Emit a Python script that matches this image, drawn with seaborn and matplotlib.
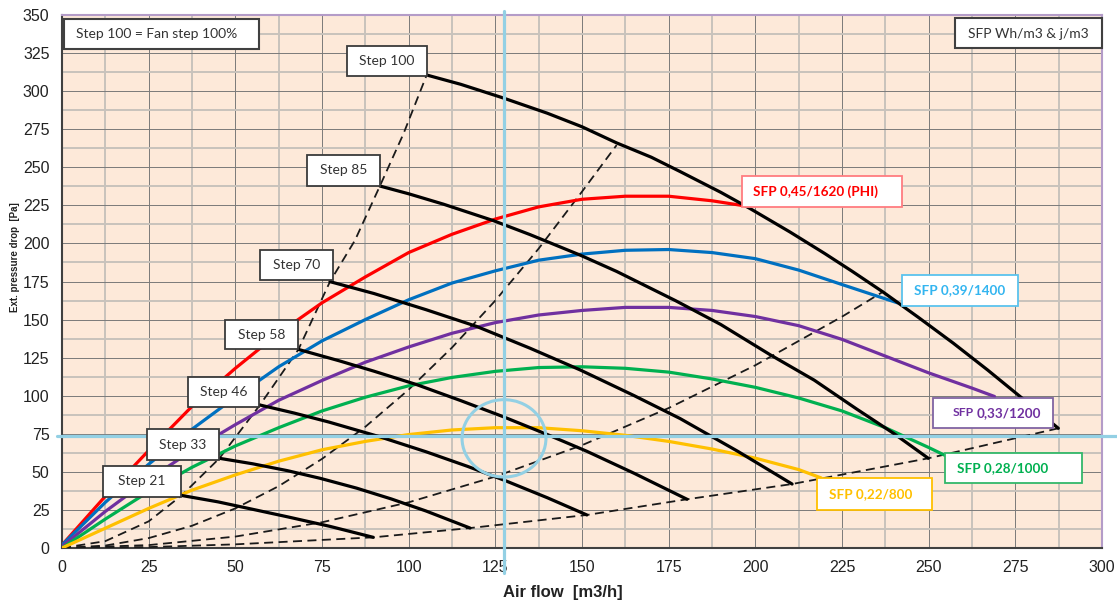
import matplotlib
matplotlib.use("Agg")
import matplotlib.pyplot as plt
import seaborn as sns
import pandas as pd
from matplotlib.patches import Rectangle, Ellipse
from matplotlib.ticker import MultipleLocator

# ---------------- data ----------------
# constant-SFP curves (air flow m3/h, pressure Pa)
sfp_labels = ["SFP 0,45/1620 (PHI)", "SFP 0,39/1400", "SFP 0,33/1200", "SFP 0,28/1000", "SFP 0,22/800"]
sfp_colors = ["#FF0000", "#0070C0", "#7030A0", "#00B050", "#FFC000"]

red_x = [0, 12.5, 25, 37.5, 50, 62.5, 75, 87.5, 100, 112.5, 125, 137.5, 150, 162.5, 175, 187.5, 196]
red_y = [2, 34, 64, 93, 118, 141, 161, 178, 194, 206, 216, 224, 229, 231, 231, 228, 225]

blue_x = [0, 12.5, 25, 37.5, 50, 62.5, 75, 87.5, 100, 112.5, 125, 137.5, 150, 162.5, 175, 187.5, 200, 212.5, 225, 241]
blue_y = [2, 30, 55, 78, 99, 119, 136, 150, 163, 174, 182, 189, 193, 195.5, 196, 194, 190, 182.5, 173, 161]

purple_x = [0, 12.5, 25, 37.5, 50, 62.5, 75, 87.5, 100, 112.5, 125, 137.5, 150, 162.5, 175, 187.5, 200, 212.5, 225, 237.5, 250, 262.5, 269]
purple_y = [1, 24, 45, 64, 81, 97, 110, 122, 132, 141, 148, 153, 156, 158, 158, 156, 152, 146, 137, 126, 115, 105, 99.5]

green_x = [0, 12.5, 25, 37.5, 50, 62.5, 75, 87.5, 100, 112.5, 125, 137.5, 150, 162.5, 175, 187.5, 200, 212.5, 225, 237.5, 250, 255]
green_y = [0, 19, 37, 53, 67, 79, 90, 99, 106.5, 112, 116, 118.5, 119, 118, 115.5, 111, 105.5, 98.5, 90, 79, 66, 60.5]

yellow_x = [0, 12.5, 25, 37.5, 50, 62.5, 75, 87.5, 100, 112.5, 125, 137.5, 150, 162.5, 175, 187.5, 200, 212.5, 219]
yellow_y = [0, 13, 26, 38, 48, 57, 64.5, 70, 74.5, 77.5, 79, 79, 77, 74, 70, 65, 59, 51.5, 46]

# fan step curves
step_labels = ["Step 100", "Step 85", "Step 70", "Step 58", "Step 46", "Step 33", "Step 21"]
step100_x = [105.2, 115, 127.3, 140, 150, 160, 170, 178.3, 190, 198.4, 210, 220, 228, 236.9, 247, 257.1, 267, 276.3, 287.4]
step100_y = [310.6, 304.5, 295.5, 285.5, 276.6, 266, 256.6, 247.2, 233.6, 223, 207.5, 193.4, 181.6, 168, 151.5, 134.5, 116.9, 99.6, 78.6]
step85_x = [91.7, 100, 110, 124.4, 135, 149.4, 160, 177, 190, 204.2, 217, 229.2, 240, 249.9]
step85_y = [237.7, 232.6, 225.8, 215, 205.8, 192.4, 181.6, 162.4, 146.8, 127, 110.2, 91.3, 75.1, 58.9]
step70_x = [77.3, 90, 105, 119.6, 135, 149.4, 165, 178.3, 195, 210.6]
step70_y = [174.9, 167.1, 156.5, 145.5, 131.2, 117, 100.1, 85, 63.4, 42]
step58_x = [68.2, 80, 90, 102.3, 115, 127.3, 140, 151.3, 165, 180.3]
step58_y = [130.4, 122.9, 116.1, 107.3, 96.8, 86.2, 74.5, 63.6, 49.1, 32]
step46_x = [57.1, 67, 77, 91.7, 105, 117, 127.8, 140, 151.4]
step46_y = [93.9, 88.6, 82.7, 73, 63.2, 53.6, 44.3, 33, 21.7]
step33_x = [45.4, 55, 65, 74.4, 85, 95, 105, 117.7]
step33_y = [58.9, 55.3, 50.8, 45.8, 39.3, 32.2, 24.3, 13.1]
step21_x = [34.5, 45, 54.2, 65, 77.3, 89.8]
step21_y = [34.5, 30.3, 25.8, 20.5, 14.2, 7]

# system curves (dashed)
sys1_x = [0, 12.5, 25, 34.5, 45.4, 57.1, 68.2, 77.3, 84.5, 91.7, 98.5, 105.2]
sys1_y = [0, 4.5, 17.5, 34.5, 58.9, 93.9, 130.4, 174.9, 202, 237.7, 272, 310.6]
sys2_x = [0, 12.5, 25, 37.5, 50, 62.5, 75, 87.5, 100, 112.5, 125, 137.5, 150, 160]
sys2_y = [0, 1.6, 6.5, 14.6, 26, 40.6, 58.5, 79.6, 104, 131.6, 162.5, 196.6, 234, 264.6]
sys3_x = [0, 25, 50, 75, 100, 125, 150, 175, 200, 225, 237]
sys3_y = [0, 1.9, 7.5, 16.9, 30, 46.9, 67.5, 91.9, 120, 151.9, 168.5]
sys4_x = [0, 25, 50, 75, 89.8, 117.7, 151.4, 180.3, 210.6, 249.9, 287.4]
sys4_y = [0, 0.6, 2.4, 5.3, 7, 13.1, 21.7, 32, 42, 58.9, 78.6]

# operating point marker
op_x, op_y = 127.5, 73.3

x_ticks = list(range(0, 301, 25))
y_ticks = list(range(0, 351, 25))

# ---------------- figure ----------------
sns.set_style("white")
plt.rcParams["font.family"] = ["Liberation Sans", "DejaVu Sans"]

W, H = 1117, 602
fig = plt.figure(figsize=(W / 100, H / 100), dpi=100)
ax = fig.add_axes([62 / W, 1 - 548 / H, (1102 - 62) / W, (548 - 15) / H])
ax.set_facecolor("#FDE9D9")
ax.set_xlim(0, 300)
ax.set_ylim(0, 350)
ax.set_xticks(x_ticks)
ax.set_yticks(y_ticks)
ax.xaxis.set_minor_locator(MultipleLocator(12.5))
ax.yaxis.set_minor_locator(MultipleLocator(12.5))
ax.grid(which="major", color="#7A7A7A", linewidth=0.7)
ax.grid(which="minor", color="#C8C2BC", linewidth=1.4)
ax.set_axisbelow(True)
ax.tick_params(which="minor", length=0)
ax.tick_params(which="major", length=5, width=1, color="#404040",
               labelsize=11.5, labelcolor="#222222", direction="out", pad=4)
for s in ["left", "bottom"]:
    ax.spines[s].set_color("#404040")
    ax.spines[s].set_linewidth(1.5)
for s in ["top", "right"]:
    ax.spines[s].set_color("#B49CC8")
    ax.spines[s].set_linewidth(1.5)


def draw(xs, ys, color, lw, ls="-", z=3):
    df = pd.DataFrame({"x": xs, "y": ys})
    sns.lineplot(data=df, x="x", y="y", ax=ax, color=color, linewidth=lw,
                 linestyle=ls, sort=False, estimator=None, zorder=z, legend=False)


dash = (0, (5.0, 3.0))
for xs, ys in [(sys1_x, sys1_y), (sys2_x, sys2_y), (sys3_x, sys3_y), (sys4_x, sys4_y)]:
    draw(xs, ys, "#1A1A1A", 1.3, dash, z=2.6)

for (xs, ys), c in zip([(red_x, red_y), (blue_x, blue_y), (purple_x, purple_y),
                        (green_x, green_y), (yellow_x, yellow_y)], sfp_colors):
    draw(xs, ys, c, 2.3, z=3)

for xs, ys in [(step100_x, step100_y), (step85_x, step85_y), (step70_x, step70_y),
               (step58_x, step58_y), (step46_x, step46_y), (step33_x, step33_y),
               (step21_x, step21_y)]:
    draw(xs, ys, "#000000", 2.3, z=3.5)

ax.set_xlabel("")
ax.set_ylabel("")

# operating point crosshair and circle
cross = "#93D0E4"
ax.plot([op_x, op_x], [352.6, -16.4], color=cross, lw=2.3, clip_on=False, zorder=6)
ax.plot([-1.4, 304.3], [op_y, op_y], color=cross, lw=2.3, clip_on=False, zorder=6)
ax.add_patch(Ellipse((op_x, 72), 24.2, 50.8, fill=False, edgecolor=cross, lw=2.2, zorder=6))

# ---------------- label boxes (pixel layout) ----------------
def fig_box(px0, py0, px1, py1, ec, lw=1.2):
    r = Rectangle((px0 / W, 1 - py1 / H), (px1 - px0) / W, (py1 - py0) / H,
                  transform=fig.transFigure, facecolor="white", edgecolor=ec,
                  linewidth=lw, zorder=5)
    fig.add_artist(r)

lab_font = ["Lato", "DejaVu Sans"]

# info boxes
fig_box(64.3, 19, 259.3, 49.3, "#404040", 1.5)
fig.text(76 / W, 1 - 34 / H, "Step 100 = Fan step 100%", family=lab_font, fontsize=10,
         color="#333333", ha="left", va="center", zorder=6)
fig_box(955, 18.3, 1101.7, 48.3, "#404040", 1.5)
fig.text(1028 / W, 1 - 33.5 / H, "SFP Wh/m3 & j/m3", family=lab_font, fontsize=10,
         color="#333333", ha="center", va="center", zorder=6)

step_boxes = [(346.7, 45.7, 426.7, 75.7), (306.7, 155, 380, 185.7), (260, 250, 333.3, 280),
              (225, 320, 298.3, 349.3), (187.7, 376.7, 259.3, 406.7), (146.7, 429.3, 219.3, 460),
              (102.7, 466, 180.7, 496.7)]
for lab, (a, b, c, d) in zip(step_labels, step_boxes):
    fig_box(a, b, c, d, "#3A3A3A", 1.3)
    fig.text((a + c) / 2 / W, 1 - (b + d) / 2 / H, lab, family=lab_font, fontsize=10,
             color="#333333", ha="center", va="center", zorder=6)

sfp_boxes = [(741.7, 176, 901.7, 206.7), (902.3, 275, 1018.3, 306), (933.3, 397.7, 1053.3, 428.3),
             (945, 452.7, 1082.3, 483.3), (817.3, 478.3, 931.7, 510)]
sfp_text_colors = ["#FF0000", "#33B5F0", "#7030A0", "#00B050", "#FFC000"]
sfp_edge_colors = ["#FF7C80", "#5BC3EE", "#8064A2", "#33B86A", "#FFC000"]
sfp_pad = [11, 12, 19, 12, 12]
for i, (lab, (a, b, c, d), tc, ec, p) in enumerate(zip(sfp_labels, sfp_boxes, sfp_text_colors,
                                                       sfp_edge_colors, sfp_pad)):
    fig_box(a, b, c, d, ec, 1.3)
    yc = 1 - (b + d) / 2 / H
    if i == 2:
        head, tail = lab.split(" ", 1)
        fig.text((a + p) / W, yc, head, family=lab_font, fontsize=8.8,
                 fontweight="bold", color=tc, ha="left", va="center", zorder=6)
        fig.text((a + p + 24) / W, yc, tail, family=lab_font, fontsize=9.7,
                 fontweight="bold", color=tc, ha="left", va="center", zorder=6)
    else:
        fig.text((a + p) / W, yc, lab, family=lab_font, fontsize=9.7,
                 fontweight="bold", color=tc, ha="left", va="center", zorder=6)

# axis titles
fig.text(563 / W, 1 - 592 / H, "Air flow  [m3/h]", fontsize=12, fontweight="bold",
         color="#222222", ha="center", va="center")
fig.text(15 / W, 1 - 257 / H, "Ext. pressure drop  [Pa]", fontsize=7, fontweight="bold",
         color="#222222", ha="center", va="center", rotation=90)

fig.savefig("out.png", dpi=100, facecolor="white")
